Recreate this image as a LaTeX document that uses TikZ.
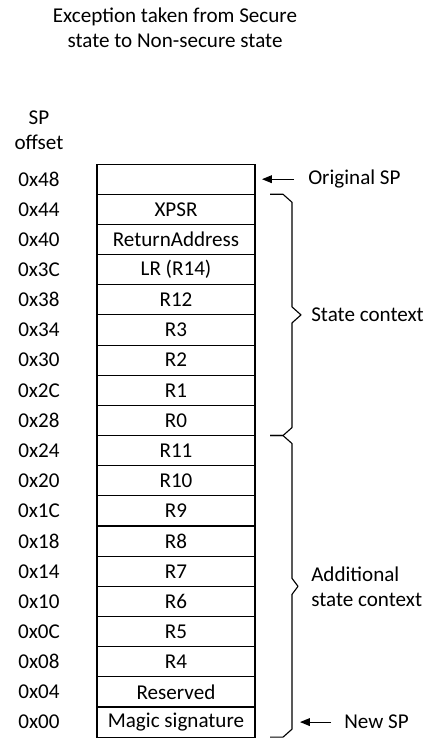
\documentclass[tikz,border=0pt]{standalone}
\usepackage{fontspec}
\setmainfont{Carlito}
\usepackage{tikz}
\usetikzlibrary{arrows.meta}

\begin{document}
\begin{tikzpicture}[>={Triangle[length=7pt,width=5.5pt]},
    font=\fontsize{15pt}{17.8pt}\selectfont]

  \tikzstyle{cell}=[rectangle,draw,line width=0.8pt,
    minimum width=3.95cm,minimum height=0.754cm,inner sep=0pt,outer sep=0pt]

  \tikzstyle{offset}=[inner sep=0pt]

  \tikzstyle{lbl}=[inner sep=0pt,anchor=west,align=left]

  %% \draw [help lines] (0,0) grid (11,18);
  \useasboundingbox (0,0) rectangle (10.875,18.45);

  \node (title) at (4.375,17.76) [align=center]
        {Exception taken from Secure\\state to Non-secure state};

  \node (spoff) at (0.975,15.2) [align=center] {SP\\offset};

  % the stack frame
  \node (r48) at (4.4,13.970) [cell] {};
  \node (r44) at (4.4,13.216) [cell] {XPSR};
  \node (r40) at (4.4,12.462) [cell] {ReturnAddress};
  \node (r3c) at (4.4,11.708) [cell] {LR (R14)};
  \node (r38) at (4.4,10.954) [cell] {R12};
  \node (r34) at (4.4,10.200) [cell] {R3};
  \node (r30) at (4.4,9.446)  [cell] {R2};
  \node (r2c) at (4.4,8.692)  [cell] {R1};
  \node (r28) at (4.4,7.938)  [cell] {R0};
  \node (r24) at (4.4,7.184)  [cell] {R11};
  \node (r20) at (4.4,6.430)  [cell] {R10};
  \node (r1c) at (4.4,5.676)  [cell] {R9};
  \node (r18) at (4.4,4.922)  [cell] {R8};
  \node (r14) at (4.4,4.168)  [cell] {R7};
  \node (r10) at (4.4,3.414)  [cell] {R6};
  \node (r0c) at (4.4,2.660)  [cell] {R5};
  \node (r08) at (4.4,1.906)  [cell] {R4};
  \node (r04) at (4.4,1.152)  [cell] {Reserved};
  \node (r00) at (4.4,0.398)  [cell] {Magic signature};

  % offsets
  \node (o48) at (0.975,13.970) [offset] {0x48};
  \node (o44) at (0.975,13.216) [offset] {0x44};
  \node (o40) at (0.975,12.462) [offset] {0x40};
  \node (o3c) at (0.975,11.708) [offset] {0x3C};
  \node (o38) at (0.975,10.954) [offset] {0x38};
  \node (o34) at (0.975,10.200) [offset] {0x34};
  \node (o30) at (0.975,9.446)  [offset] {0x30};
  \node (o2c) at (0.975,8.692)  [offset] {0x2C};
  \node (o28) at (0.975,7.938)  [offset] {0x28};
  \node (o24) at (0.975,7.184)  [offset] {0x24};
  \node (o20) at (0.975,6.430)  [offset] {0x20};
  \node (o1c) at (0.975,5.676)  [offset] {0x1C};
  \node (o18) at (0.975,4.922)  [offset] {0x18};
  \node (o14) at (0.975,4.168)  [offset] {0x14};
  \node (o10) at (0.975,3.414)  [offset] {0x10};
  \node (o0c) at (0.975,2.660)  [offset] {0x0C};
  \node (o08) at (0.975,1.906)  [offset] {0x08};
  \node (o04) at (0.975,1.152)  [offset] {0x04};
  \node (o00) at (0.975,0.398)  [offset] {0x00};

  % labels on the right
  \node (orig)  at (7.7,13.970)  [lbl] {Original SP};
  \node (state) at (7.775,10.577) [lbl] {State context};
  \node (addl)  at (7.775,3.791)  [lbl] {Additional\\state context};
  \node (newsp) at (8.6,0.398)   [lbl] {New SP};
  \coordinate (newtip) at (7.5,0.398);

  \tikzstyle{ptr}=[->,line width=0.8pt]
  \tikzstyle{ctxbrace}=[line width=0.8pt,line join=round]

  \draw [ptr,shorten <=0.35cm,shorten >=0.175cm]
        (orig.west) -- (orig.west -| r48.east);
  \draw [ptr,shorten <=0.325cm] (newsp.west) -- (newtip);

  \draw [ctxbrace] (6.75,13.593) -- (7.075,13.593) -- (7.3,13.393)
        -- (7.3,10.777) -- (7.525,10.577) -- (7.3,10.377)
        -- (7.3,7.761) -- (7.075,7.561) -- (6.75,7.561);
  \draw [ctxbrace] (6.75,7.561) -- (7.075,7.561) -- (7.3,7.361)
        -- (7.3,3.991) -- (7.45,3.791) -- (7.3,3.591)
        -- (7.3,0.221) -- (7.075,0.021) -- (6.75,0.021);

\end{tikzpicture}
\end{document}
